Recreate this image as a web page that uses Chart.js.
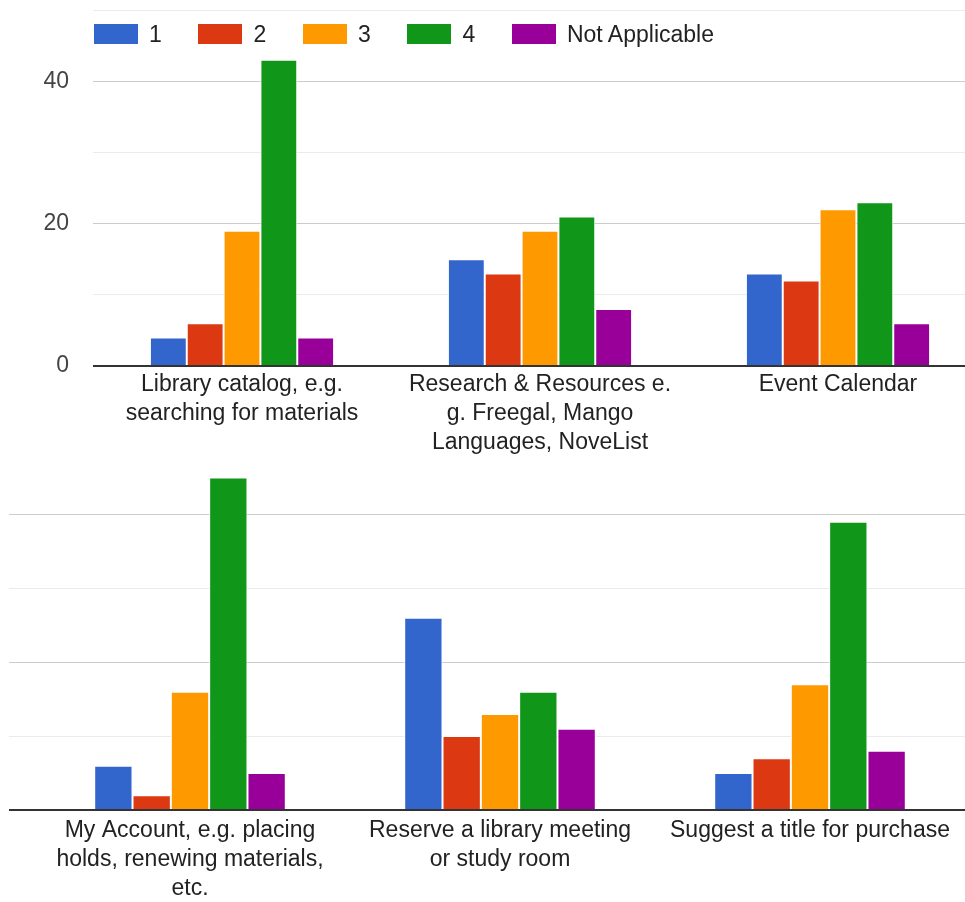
<!DOCTYPE html>
<html>
<head>
<meta charset="utf-8">
<script src="https://cdn.jsdelivr.net/npm/chart.js@4"></script>
<style>
    html, body { margin: 0; padding: 0; background: #fff; overflow: hidden; }
    body { width: 965px; height: 902px; position: relative; font-family: 'Liberation Sans', Arial, sans-serif; }
    #topChart { position: absolute; left: 0; top: 0; }
    #bottomChart { position: absolute; left: 9px; top: 460px; }
    #leyenda { position: absolute; left: 94px; top: 24px; display: flex; gap: 36.7px; z-index: 2; }
    #leyenda .item { display: flex; align-items: center; height: 20px; font-size: 23px; color: #222; }
    #leyenda .caja { width: 44px; height: 20px; margin-right: 11px; box-sizing: border-box; }
</style>
</head>
<body>
<canvas id="topChart" width="1000" height="460"></canvas>
<canvas id="bottomChart" width="956" height="442"></canvas>
<div id="leyenda"></div>

<script>
// Datos
const serieNombres = ['1', '2', '3', '4', 'Not Applicable'];
const serieColores = ['#3366cc', '#dc3912', '#ff9900', '#109618', '#990099'];

const categoriasArriba = [
    ['Library catalog, e.g.', 'searching for materials'],
    ['Research & Resources e.', 'g. Freegal, Mango', 'Languages, NoveList'],
    ['Event Calendar']
];
const arriba1 = [4, 15, 13];
const arriba2 = [6, 13, 12];
const arriba3 = [19, 19, 22];
const arriba4 = [43, 21, 23];
const arribaNA = [4, 8, 6];

const categoriasAbajo = [
    ['My Account, e.g. placing', 'holds, renewing materials,', 'etc.'],
    ['Reserve a library meeting', 'or study room'],
    ['Suggest a title for purchase']
];
const abajo1 = [6, 26, 5];
const abajo2 = [2, 10, 7];
const abajo3 = [16, 13, 17];
const abajo4 = [45, 16, 39];
const abajoNA = [5, 11, 8];

const yTicksArriba = [0, 20, 40];

const fuente = "'Liberation Sans', Arial, sans-serif";

function datasets(series) {
    return series.map((data, i) => ({
        label: serieNombres[i],
        data: data,
        backgroundColor: serieColores[i],
        borderColor: '#ffffff',
        borderWidth: 1,
        categoryPercentage: 0.618,
        barPercentage: 1
    }));
}

function colorGrid(ctx) {
    const v = ctx.tick.value;
    if (v === 0) return '#333333';
    if (v % 20 === 0) return '#cccccc';
    if (v % 10 === 0) return '#ebebeb';
    return 'rgba(0,0,0,0)';
}

function anchoGrid(ctx) {
    return ctx.tick.value === 0 ? 2 : 1;
}

// Leyenda
const leyenda = document.getElementById('leyenda');
leyenda.innerHTML = serieNombres.map((n, i) => `
    <div class="item"><span class="caja" style="background:${serieColores[i]}"></span>${n}</div>
`).join('');

// Grafico de arriba
new Chart(document.getElementById('topChart').getContext('2d'), {
    type: 'bar',
    data: {
        labels: categoriasArriba,
        datasets: datasets([arriba1, arriba2, arriba3, arriba4, arribaNA])
    },
    options: {
        responsive: false,
        animation: false,
        layout: { padding: { top: 10, right: 13, left: 0, bottom: 0 } },
        plugins: { legend: { display: false }, tooltip: { enabled: false } },
        scales: {
            x: {
                grid: { display: false, drawTicks: false },
                border: { display: false },
                ticks: {
                    color: '#222',
                    padding: 4,
                    maxRotation: 0,
                    autoSkip: false,
                    font: { family: fuente, size: 23, lineHeight: 1.26 }
                },
                afterFit: s => { s.height = 94; }
            },
            y: {
                min: 0,
                max: 50,
                ticks: {
                    stepSize: 10,
                    color: '#444',
                    padding: 24,
                    font: { family: fuente, size: 23 },
                    callback: v => yTicksArriba.includes(v) ? v : ''
                },
                grid: { color: colorGrid, lineWidth: anchoGrid, drawTicks: false },
                border: { display: false },
                afterFit: s => {
                    s.width = 93;
                    s.paddingTop = 0;
                    s.paddingBottom = 0;
                }
            }
        }
    }
});

// Grafico de abajo
new Chart(document.getElementById('bottomChart').getContext('2d'), {
    type: 'bar',
    data: {
        labels: categoriasAbajo,
        datasets: datasets([abajo1, abajo2, abajo3, abajo4, abajoNA])
    },
    options: {
        responsive: false,
        animation: false,
        layout: { padding: { top: 10, right: 0, left: 0, bottom: 0 } },
        plugins: { legend: { display: false }, tooltip: { enabled: false } },
        scales: {
            x: {
                grid: { display: false, drawTicks: false },
                border: { display: false },
                ticks: {
                    color: '#222',
                    padding: 6,
                    maxRotation: 0,
                    autoSkip: false,
                    font: { family: fuente, size: 23, lineHeight: 1.26 }
                },
                afterFit: s => { s.height = 92; }
            },
            y: {
                min: 0,
                max: 46,
                ticks: { display: false, stepSize: 10 },
                grid: { color: colorGrid, lineWidth: anchoGrid, drawTicks: true, tickLength: 26 },
                border: { display: false },
                afterFit: s => { s.width = 26; }
            }
        }
    }
});
</script>
</body>
</html>
